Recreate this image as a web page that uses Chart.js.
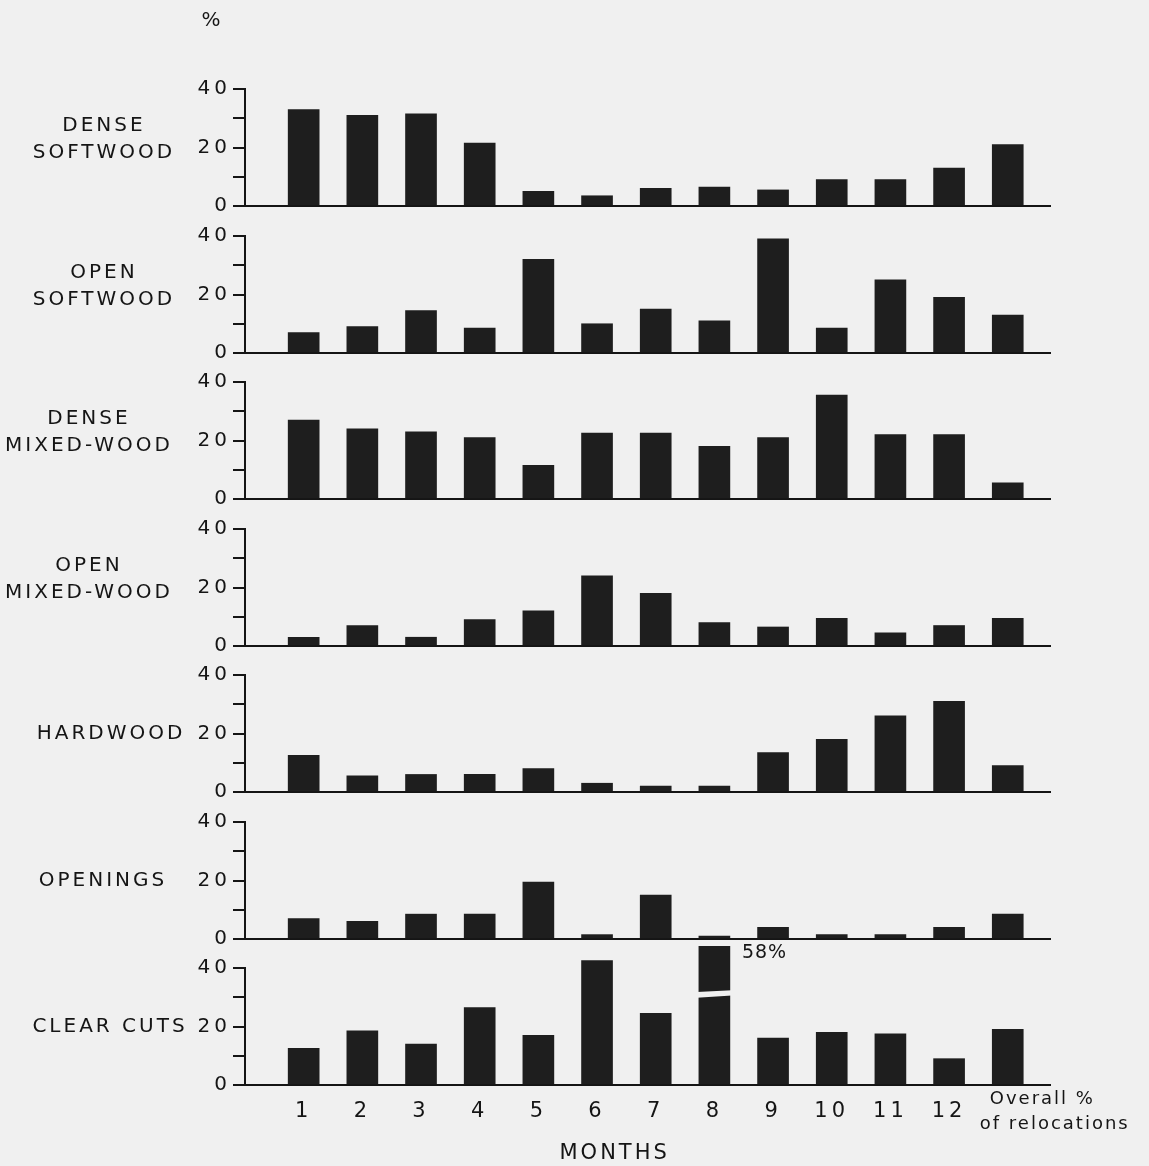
<!DOCTYPE html>
<html>
<head>
<meta charset="utf-8">
<title>Habitat use by month</title>
<script src="https://cdn.jsdelivr.net/npm/chart.js@4.4.1/dist/chart.umd.min.js"></script>
<style>
  html, body { margin: 0; padding: 0; background: #f0f0f0; }
  #wrap { position: relative; width: 1149px; height: 1166px; overflow: hidden; background: #f0f0f0; }
  #wrap canvas { position: absolute; left: 0; }
</style>
</head>
<body>
<div id="wrap"></div>
<script>
// ---- data ----
const habitats = [
  ['DENSE', 'SOFTWOOD'],
  ['OPEN', 'SOFTWOOD'],
  ['DENSE', 'MIXED-WOOD'],
  ['OPEN', 'MIXED-WOOD'],
  ['HARDWOOD'],
  ['OPENINGS'],
  ['CLEAR CUTS']
];
const months = ['1', '2', '3', '4', '5', '6', '7', '8', '9', '10', '11', '12'];
const overallLabel = ['Overall %', 'of relocations'];
const yTicks = [0, 10, 20, 30, 40];
const yLabelled = [0, 20, 40];
const unitLabel = '%';
const axisTitle = 'MONTHS';

// percent of relocations per month (1..12), then overall
const denseSoftwood  = [33, 31, 31.5, 21.5, 5, 3.5, 6, 6.5, 5.5, 9, 9, 13, 21];
const openSoftwood   = [7, 9, 14.5, 8.5, 32, 10, 15, 11, 39, 8.5, 25, 19, 13];
const denseMixedwood = [27, 24, 23, 21, 11.5, 22.5, 22.5, 18, 21, 35.5, 22, 22, 5.5];
const openMixedwood  = [3, 7, 3, 9, 12, 24, 18, 8, 6.5, 9.5, 4.5, 7, 9.5];
const hardwood       = [12.5, 5.5, 6, 6, 8, 3, 2, 2, 13.5, 18, 26, 31, 9];
const openings       = [7, 6, 8.5, 8.5, 19.5, 1.5, 15, 1, 4, 1.5, 1.5, 4, 8.5];
const clearCuts      = [12.5, 18.5, 14, 26.5, 17, 42.5, 24.5, 58, 16, 18, 17.5, 9, 19];

const series = [denseSoftwood, openSoftwood, denseMixedwood, openMixedwood, hardwood, openings, clearCuts];
const categories = [...months, overallLabel.join(' ')];

// ---- style ----
const INK = '#151515';
const BAR = '#1e1e1e';
const BG = '#f0f0f0';
const FONT = '"DejaVu Sans", "Noto Sans", sans-serif';
const PANEL_H = 117;       // height of one 0..40 panel
const PANEL_STEP = 146.5;  // distance between panel tops
const FIRST_TOP = 89;
const Y_AXIS_W = 245;
const RIGHT_PAD = 99;
const X_MAX = 13.72;
const BAR_W = 31;
const CLIP_TOP = 22;       // bars above 40 may run this far into the gap
const LABEL_X = [104, 104, 89, 89, 111, 103, 110];

const wrap = document.getElementById('wrap');

function decorPlugin(k, isBottom) {
  return {
    id: 'decor' + k,
    beforeDraw(chart) {
      chart.ctx.letterSpacing = '4px';
    },
    afterDatasetsDraw(chart) {
      const ctx = chart.ctx, xs = chart.scales.x, ys = chart.scales.y, area = chart.chartArea;
      const visibleTop = ys.getValueForPixel(area.top - CLIP_TOP);
      const vals = series[k];
      vals.forEach((v, i) => {
        if (v <= visibleTop) return;
        const cx = xs.getPixelForValue(i + 1);
        const L = cx - BAR_W / 2 - 2, R = cx + BAR_W / 2 + 2;
        // axis-break gap across the truncated bar
        ctx.save();
        ctx.fillStyle = BG;
        ctx.beginPath();
        ctx.moveTo(L, ys.getPixelForValue(29.8));
        ctx.lineTo(R, ys.getPixelForValue(30.6));
        ctx.lineTo(R, ys.getPixelForValue(32.4));
        ctx.lineTo(L, ys.getPixelForValue(31.8));
        ctx.closePath();
        ctx.fill();
        // value label beside the truncated bar
        ctx.fillStyle = INK;
        ctx.letterSpacing = '1px';
        ctx.font = '19px ' + FONT;
        ctx.textAlign = 'left';
        ctx.textBaseline = 'middle';
        ctx.fillText(v + '%', cx + BAR_W / 2 + 12, area.top - CLIP_TOP + 7);
        ctx.restore();
      });
    },
    afterDraw(chart) {
      const ctx = chart.ctx, xs = chart.scales.x, ys = chart.scales.y, area = chart.chartArea;
      ctx.save();
      ctx.fillStyle = INK;
      ctx.textBaseline = 'middle';
      ctx.textAlign = 'center';
      ctx.letterSpacing = '3px';
      ctx.font = '20px ' + FONT;
      const lines = habitats[k];
      const y20 = ys.getPixelForValue(20);
      if (lines.length === 2) {
        ctx.fillText(lines[0], LABEL_X[k], y20 - 22);
        ctx.fillText(lines[1], LABEL_X[k], y20 + 5);
      } else {
        ctx.fillText(lines[0], LABEL_X[k], y20);
      }
      if (k === 0) {
        ctx.letterSpacing = '0px';
        ctx.fillText(unitLabel, 211, 21);
      }
      if (isBottom) {
        const xo = xs.getPixelForValue(months.length + 1);
        ctx.textAlign = 'left';
        ctx.letterSpacing = '2px';
        ctx.font = '18px ' + FONT;
        ctx.fillText(overallLabel[0], xo - 18, area.bottom + 14);
        ctx.fillText(overallLabel[1], xo - 28, area.bottom + 39);
        ctx.textAlign = 'center';
        ctx.letterSpacing = '3px';
        ctx.font = '21px ' + FONT;
        ctx.fillText(axisTitle, xs.getPixelForValue(6.3), area.bottom + 69);
      }
      ctx.restore();
    }
  };
}

series.forEach((vals, k) => {
  const isBottom = k === series.length - 1;
  const top40 = Math.round(FIRST_TOP + PANEL_STEP * k);
  const padTop = k === 0 ? top40 : 26;
  const xH = isBottom ? 1166 - (top40 + PANEL_H) : 16;
  const canvas = document.createElement('canvas');
  canvas.width = 1149;
  canvas.height = padTop + PANEL_H + xH;
  canvas.style.top = (top40 - padTop) + 'px';
  canvas.style.width = '1149px';
  canvas.style.height = canvas.height + 'px';
  wrap.appendChild(canvas);

  new Chart(canvas, {
    type: 'bar',
    data: {
      datasets: [{
        label: habitats[k].join(' '),
        data: vals.map((v, i) => ({ x: i + 1, y: v })),
        backgroundColor: BAR,
        borderWidth: 0,
        barThickness: BAR_W,
        clip: { left: 0, right: 0, bottom: 0, top: CLIP_TOP }
      }]
    },
    options: {
      responsive: false,
      animation: false,
      devicePixelRatio: 1,
      events: [],
      layout: { padding: { top: padTop, right: RIGHT_PAD, bottom: 0, left: 0 } },
      plugins: { legend: { display: false }, tooltip: { enabled: false } },
      scales: {
        x: {
          type: 'linear',
          min: 0,
          max: X_MAX,
          offset: false,
          grid: { display: false, drawTicks: false },
          border: { display: true, color: INK, width: 2 },
          afterBuildTicks: s => { s.ticks = categories.map((c, i) => ({ value: i + 1 })); },
          afterFit: s => { s.height = xH; },
          ticks: {
            display: isBottom,
            autoSkip: false,
            maxRotation: 0,
            padding: 14,
            color: INK,
            font: { family: FONT, size: 21 },
            callback: v => (v >= 1 && v <= months.length ? months[v - 1] : '')
          }
        },
        y: {
          min: 0,
          max: 40,
          afterBuildTicks: s => { s.ticks = yTicks.map(v => ({ value: v })); },
          afterFit: s => { s.width = Y_AXIS_W; },
          grid: { display: true, drawOnChartArea: false, drawTicks: true, tickLength: 12, color: INK, lineWidth: 2 },
          border: { display: true, color: INK, width: 2 },
          ticks: {
            padding: 2,
            color: INK,
            font: { family: FONT, size: 20 },
            callback: v => (yLabelled.includes(v) ? String(v) : '')
          }
        }
      }
    },
    plugins: [decorPlugin(k, isBottom)]
  });
});
</script>
</body>
</html>
